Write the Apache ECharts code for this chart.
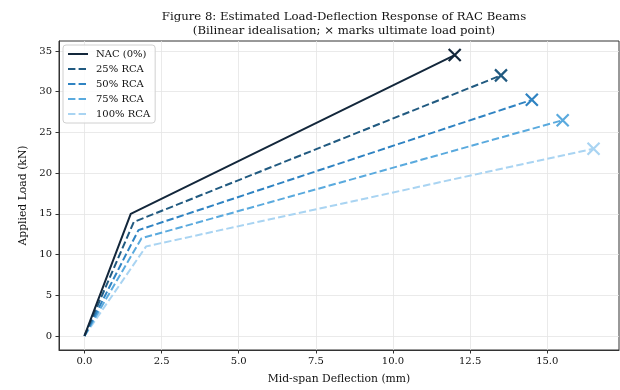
<!DOCTYPE html>
<html>
<head>
<meta charset="utf-8">
<script src="https://cdn.jsdelivr.net/npm/echarts@6/dist/echarts.min.js"></script>
<style>
  html, body { margin: 0; padding: 0; background: #fff; }
  #chart { width: 620px; height: 390px; }
</style>
</head>
<body>
<div id="chart"></div>
<script>
// bilinear load-deflection curves: origin, yield knee, ultimate point
const seriesNames = ['NAC (0%)', '25% RCA', '50% RCA', '75% RCA', '100% RCA'];
const deflection = [
  [0, 1.5, 12.0],
  [0, 1.6, 13.5],
  [0, 1.75, 14.5],
  [0, 1.85, 15.5],
  [0, 2.0, 16.5]
];
const load = [
  [0, 15.0, 34.5],
  [0, 14.0, 32.0],
  [0, 13.0, 29.0],
  [0, 12.0, 26.5],
  [0, 11.0, 23.0]
];
const colors = ['#13273b', '#215a80', '#2f83c2', '#5aaade', '#a9d4f2'];
const xTicks = [0, 2.5, 5, 7.5, 10, 12.5, 15];
const yTicks = [0, 5, 10, 15, 20, 25, 30, 35];

const serif = '"DejaVu Serif", "Liberation Serif", serif';
const crossPath = 'path://M0,0L10,10M10,0L0,10';

const series = [];
seriesNames.forEach((name, i) => {
  series.push({
    name: name,
    type: 'line',
    data: deflection[i].map((x, j) => [x, load[i][j]]),
    showSymbol: false,
    symbol: 'none',
    lineStyle: {
      color: colors[i],
      width: 2,
      join: 'round',
      type: i === 0 ? 'solid' : [7.4, 3.2]
    },
    itemStyle: { color: colors[i] },
    z: 10 - i
  });
});
// × at each ultimate point
seriesNames.forEach((name, i) => {
  const last = deflection[i].length - 1;
  series.push({
    type: 'scatter',
    data: [[deflection[i][last], load[i][last]]],
    symbol: crossPath,
    symbolSize: 12,
    itemStyle: { color: 'none', borderColor: colors[i], borderWidth: 2.2, opacity: 1 },
    z: 20,
    silent: true
  });
});

const chart = echarts.init(document.getElementById('chart'), null, { renderer: 'canvas' });
chart.setOption({
  animation: false,
  backgroundColor: '#fff',
  textStyle: { fontFamily: serif },
  title: {
    text: 'Figure 8: Estimated Load-Deflection Response of RAC Beams\n(Bilinear idealisation; \u00d7 marks ultimate load point)',
    left: 339,
    textAlign: 'center',
    top: 5,
    textStyle: { fontFamily: serif, fontSize: 11.7, fontWeight: 'normal', color: '#111', lineHeight: 14 }
  },
  legend: {
    data: seriesNames,
    orient: 'vertical',
    left: 63,
    top: 45,
    itemWidth: 20,
    itemHeight: 10,
    itemGap: 5,
    padding: [4, 5, 4, 4],
    itemStyle: { color: 'rgba(0,0,0,0)', borderWidth: 0, opacity: 0 },
    backgroundColor: 'rgba(255,255,255,0.85)',
    borderColor: '#d0d0d0',
    borderWidth: 1,
    borderRadius: 3,
    textStyle: { fontFamily: serif, fontSize: 10, color: '#111', padding: [0, 0, 0, 3] }
  },
  grid: {
    left: 59, right: 1, top: 41, bottom: 35,
    show: true, borderColor: '#333', borderWidth: 1
  },
  xAxis: {
    type: 'value',
    min: -0.825,
    max: 17.325,
    name: 'Mid-span Deflection (mm)',
    nameLocation: 'middle',
    nameGap: 24,
    nameTextStyle: { fontFamily: serif, fontSize: 10.8, color: '#111' },
    axisLine: { show: true, onZero: false, lineStyle: { color: '#333', width: 1 } },
    axisTick: { show: true, customValues: xTicks, length: 3.5, lineStyle: { color: '#333' } },
    axisLabel: {
      customValues: xTicks, fontFamily: serif, fontSize: 10, color: '#111', margin: 6,
      formatter: v => v.toFixed(1)
    },
    splitLine: { show: true, customValues: xTicks, lineStyle: { color: '#e5e5e5', width: 0.8 } }
  },
  yAxis: {
    type: 'value',
    min: -1.725,
    max: 36.225,
    name: 'Applied Load (kN)',
    nameLocation: 'middle',
    nameGap: 29,
    nameTextStyle: { fontFamily: serif, fontSize: 10.8, color: '#111' },
    axisLine: { show: true, onZero: false, lineStyle: { color: '#333', width: 1 } },
    axisTick: { show: true, customValues: yTicks, length: 3.5, lineStyle: { color: '#333' } },
    axisLabel: { customValues: yTicks, fontFamily: serif, fontSize: 10, color: '#111', margin: 7 },
    splitLine: { show: true, customValues: yTicks, lineStyle: { color: '#e5e5e5', width: 0.8 } }
  },
  series: series
});
</script>
</body>
</html>
